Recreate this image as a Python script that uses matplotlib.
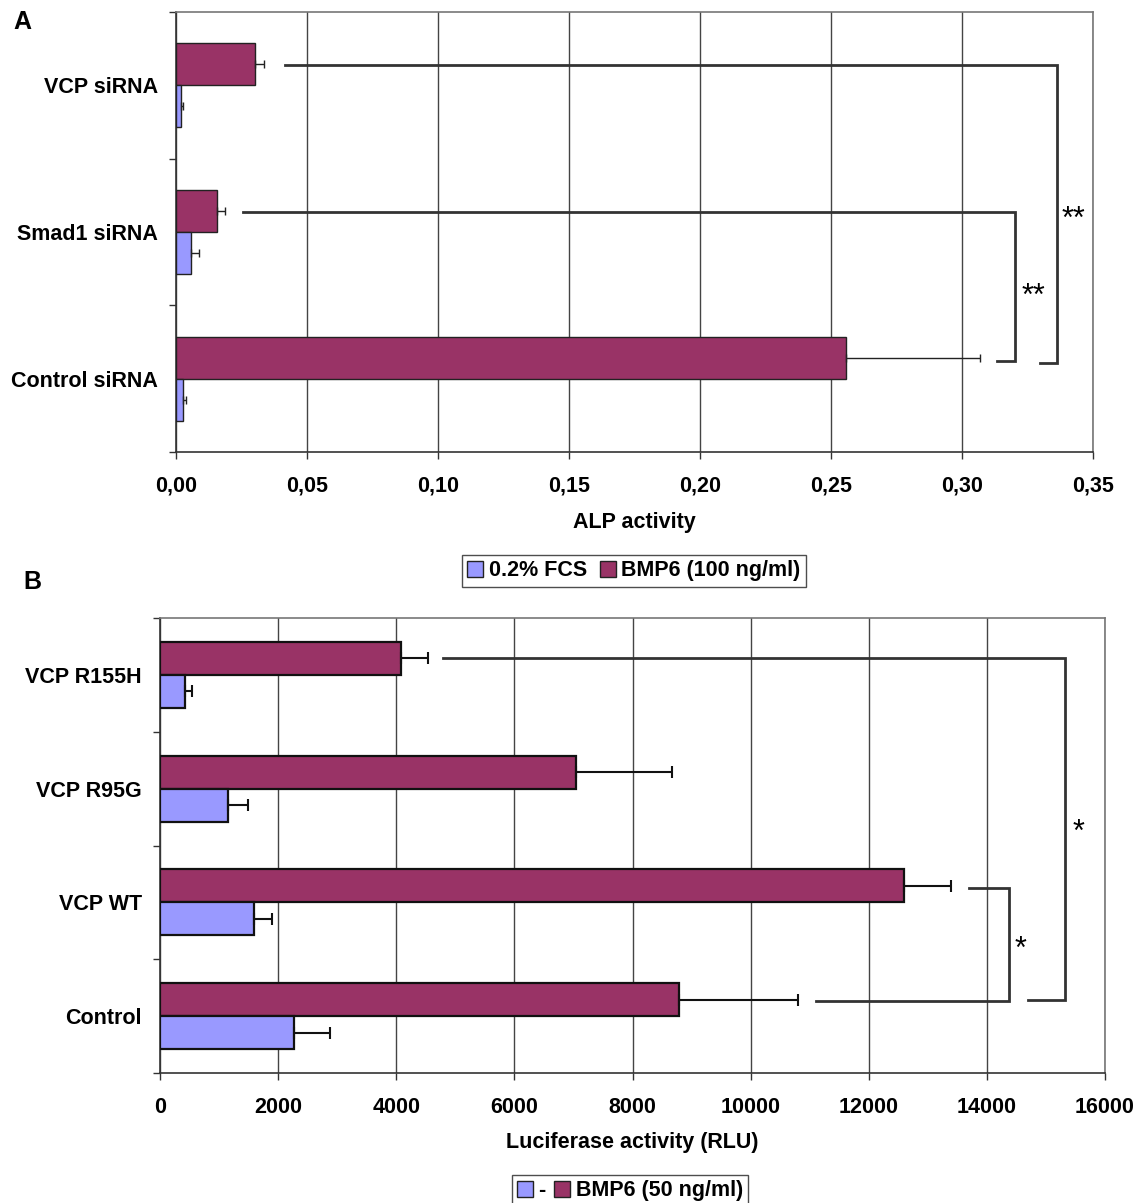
import matplotlib
matplotlib.use("Agg")
import matplotlib.pyplot as plt
import numpy as np

plt.rcParams['font.family'] = ['Liberation Sans', 'DejaVu Sans']

# ---------------- data ----------------
A_categories = ["Control siRNA", "Smad1 siRNA", "VCP siRNA"]
A_fcs = [0.0027, 0.0057, 0.0020]
A_fcs_err = [0.0011, 0.0031, 0.0005]
A_bmp = [0.2557, 0.0157, 0.0302]
A_bmp_err = [0.0510, 0.0030, 0.0034]
A_xticks = [0.00, 0.05, 0.10, 0.15, 0.20, 0.25, 0.30, 0.35]
A_xticklabels = ["0,00", "0,05", "0,10", "0,15", "0,20", "0,25", "0,30", "0,35"]
A_legend = ["0.2% FCS", "BMP6 (100 ng/ml)"]

B_categories = ["Control", "VCP WT", "VCP R95G", "VCP R155H"]
B_neg = [2264, 1597, 1146, 423]
B_neg_err = [610, 305, 340, 120]
B_bmp = [8790, 12600, 7040, 4080]
B_bmp_err = [2010, 800, 1630, 460]
B_xticks = [0, 2000, 4000, 6000, 8000, 10000, 12000, 14000, 16000]
B_legend = ["-", "BMP6 (50 ng/ml)"]

BLUE = "#9999FF"
MAROON = "#993366"
BRK = "#333333"

fig = plt.figure(figsize=(11.37, 12.03), dpi=100)

def style_axis(ax, ncat, xticks, xlabels, xlim, cats, fs=15.5):
    ax.set_xlim(*xlim)
    ax.set_ylim(-0.5, ncat - 0.5)
    ax.set_xticks(xticks)
    ax.set_xticklabels(xlabels, fontsize=fs, fontweight='bold')
    ax.set_yticks(range(ncat))
    ax.set_yticklabels(cats, fontsize=fs, fontweight='bold')
    ax.set_yticks(np.arange(-0.5, ncat, 1.0), minor=True)
    ax.tick_params(axis='y', which='major', length=0, pad=13)
    ax.tick_params(axis='y', which='minor', length=5, width=1, direction='out', color='#333333')
    ax.tick_params(axis='x', which='major', length=5, width=1, direction='out', pad=12, color='#333333')
    ax.grid(axis='x', color='#444444', linewidth=1.0)
    ax.set_axisbelow(True)
    for s in ['top', 'right']:
        ax.spines[s].set_color('#777777')
        ax.spines[s].set_linewidth(1.2)
    for s in ['left', 'bottom']:
        ax.spines[s].set_color('#333333')
        ax.spines[s].set_linewidth(1.2)

def bracket(ax, x_start_top, y_top, x_v, y_bot, x_start_bot, lw=2.0):
    ax.plot([x_start_top, x_v, x_v, x_start_bot], [y_top, y_top, y_bot, y_bot],
            color=BRK, lw=lw, solid_joinstyle='miter', clip_on=False, zorder=4)

# ---------------- Panel A ----------------
axA = fig.add_axes([176/1137, 1 - 452/1203, (1093-176)/1137, (452-12)/1203])
yA = np.arange(len(A_categories))
hA = 0.286
axA.barh(yA + hA/2, A_bmp, height=hA, color=MAROON, edgecolor='#222222', linewidth=1.0, zorder=3)
axA.barh(yA - hA/2, A_fcs, height=hA, color=BLUE, edgecolor='#222222', linewidth=1.0, zorder=3)
axA.errorbar(A_bmp, yA + hA/2, xerr=[np.zeros(3), A_bmp_err], fmt='none', ecolor='#222222',
             elinewidth=1.0, capsize=3, capthick=1.0, zorder=4)
axA.errorbar(A_fcs, yA - hA/2, xerr=[np.zeros(3), A_fcs_err], fmt='none', ecolor='#222222',
             elinewidth=1.0, capsize=3, capthick=1.0, zorder=4)
style_axis(axA, 3, A_xticks, A_xticklabels, (0, 0.35), A_categories)
axA.set_xlabel("ALP activity", fontsize=15.5, fontweight='bold')
axA.xaxis.set_label_coords(0.5, -0.137)

# significance brackets (VCP vs Control, Smad1 vs Control)
endA = np.array(A_bmp) + np.array(A_bmp_err)
bracket(axA, endA[2] + 0.008, 2 + 0.136, 0.3363, 0.11, endA[0] + 0.023)
bracket(axA, endA[1] + 0.007, 1 + 0.136, 0.3202, 0.12, endA[0] + 0.0066)
axA.text(0.3424, 1.08, "**", fontsize=22, ha='center', va='center', zorder=5)
axA.text(0.3271, 0.555, "**", fontsize=22, ha='center', va='center', zorder=5)

hA1 = plt.Rectangle((0, 0), 1, 1, facecolor=BLUE, edgecolor='#222222', linewidth=1.0)
hA2 = plt.Rectangle((0, 0), 1, 1, facecolor=MAROON, edgecolor='#222222', linewidth=1.0)
legA = fig.legend([hA1, hA2], A_legend, loc='center', bbox_to_anchor=(634/1137, 1 - 571/1203),
                  ncol=2, frameon=True, fancybox=False, edgecolor='#222222',
                  prop={'size': 15.5, 'weight': 'bold'}, handlelength=0.75, handleheight=0.75,
                  handletextpad=0.25, columnspacing=0.6, borderpad=0.25, borderaxespad=0)
legA.get_frame().set_linewidth(1.0)

fig.text(22/1137, 1 - 22/1203, "A", fontsize=18, fontweight='bold', ha='center', va='center')

# ---------------- Panel B ----------------
axB = fig.add_axes([160/1137, 1 - 1073/1203, (1105-160)/1137, (1073-618)/1203])
yB = np.arange(len(B_categories))
hB = 0.29
axB.barh(yB + hB/2, B_bmp, height=hB, color=MAROON, edgecolor='#111111', linewidth=1.6, zorder=3)
axB.barh(yB - hB/2, B_neg, height=hB, color=BLUE, edgecolor='#111111', linewidth=1.6, zorder=3)
axB.errorbar(B_bmp, yB + hB/2, xerr=[np.zeros(4), B_bmp_err], fmt='none', ecolor='#111111',
             elinewidth=1.5, capsize=4, capthick=1.5, zorder=4)
axB.errorbar(B_neg, yB - hB/2, xerr=[np.zeros(4), B_neg_err], fmt='none', ecolor='#111111',
             elinewidth=1.5, capsize=4, capthick=1.5, zorder=4)
style_axis(axB, 4, B_xticks, [str(v) for v in B_xticks], (0, 16000), B_categories)
axB.set_xlabel("Luciferase activity (RLU)", fontsize=15.5, fontweight='bold')
axB.xaxis.set_label_coords(0.5, -0.129)

endB = np.array(B_bmp) + np.array(B_bmp_err)
bracket(axB, endB[3] + 250, 3 + 0.15, 15323, 0.14, endB[0] + 3900)
bracket(axB, endB[1] + 300, 1 + 0.13, 14375, 0.13, endB[0] + 300)
axB.text(15544, 1.61, "*", fontsize=22, ha='center', va='center', zorder=5)
axB.text(14562, 0.58, "*", fontsize=22, ha='center', va='center', zorder=5)

legB = fig.legend([hA1, hA2], B_legend, loc='upper center', bbox_to_anchor=(630/1137, 1 - 1175/1203),
                  ncol=2, frameon=True, fancybox=False, edgecolor='#222222',
                  prop={'size': 15.5, 'weight': 'bold'}, handlelength=0.75, handleheight=0.75,
                  handletextpad=0.25, columnspacing=0.4, borderpad=0.25, borderaxespad=0)
legB.get_frame().set_linewidth(1.0)

fig.text(32/1137, 1 - 582/1203, "B", fontsize=18, fontweight='bold', ha='center', va='center')

fig.savefig("out.png", dpi=100)
